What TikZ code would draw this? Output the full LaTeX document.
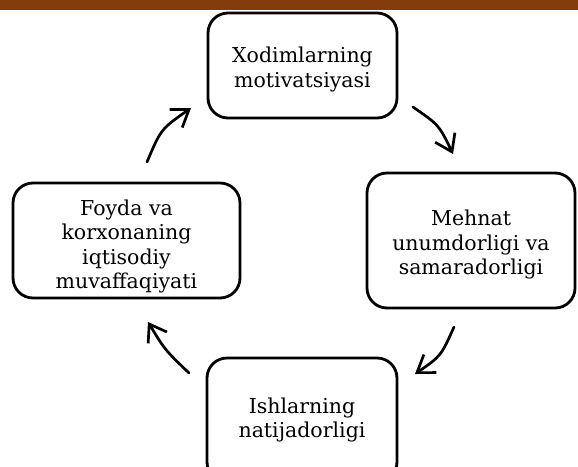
\documentclass[tikz,border=0pt]{standalone}
\usepackage{fontspec}
\setmainfont{DejaVu Serif}
\usetikzlibrary{arrows.meta}
\definecolor{barbrown}{HTML}{843C0C}
\begin{document}
\begin{tikzpicture}[x=1pt,y=-1pt,
  box/.style={draw=black, line width=2.8pt, rounded corners=20pt, inner sep=0pt},
  boxtext/.style={align=center, font=\fontsize{20.5}{24.5}\selectfont, inner sep=0pt},
  cyc/.style={line width=2.7pt, line cap=round, line join=round,
    -{Straight Barb[length=16pt,width=22pt,line width=2.7pt]}}
]
\useasboundingbox (0,0) rectangle (578,466);
\clip (0,0) rectangle (578,466);
\fill[barbrown] (0,0) rectangle (578,10);

\node[box, minimum width=189pt, minimum height=105pt,
  label={[boxtext, yshift=-4pt]center:Xodimlarning\\motivatsiyasi}] (mot) at (302.5,65.5) {};
\node[box, minimum width=208pt, minimum height=135pt,
  label={[boxtext, yshift=-4pt]center:Mehnat\\unumdorligi va\\samaradorligi}] (meh) at (471,240.5) {};
\node[box, minimum width=190pt, minimum height=124pt,
  label={[boxtext]center:Ishlarning\\natijadorligi}] (ish) at (302,420) {};
\node[box, minimum width=227pt, minimum height=115pt,
  label={[boxtext, yshift=-6pt]center:Foyda va\\korxonaning\\iqtisodiy\\muvaffaqiyati}] (foy) at (126.5,240.5) {};

\coordinate (a1s) at (147,162);
\coordinate (a1e) at (191,108);
\coordinate (a2s) at (413,107);
\coordinate (a2e) at (453,154);
\coordinate (a3s) at (454,327);
\coordinate (a3e) at (415,374);
\coordinate (a4s) at (189,373);
\coordinate (a4e) at (148,322);

\draw[cyc] (a1s) .. controls (161,129) .. (a1e);
\draw[cyc] (a2s) .. controls (439,125) .. (a2e);
\draw[cyc] (a3s) .. controls (441,356) .. (a3e);
\draw[cyc] (a4s) .. controls (165,350) .. (a4e);
\end{tikzpicture}
\end{document}
